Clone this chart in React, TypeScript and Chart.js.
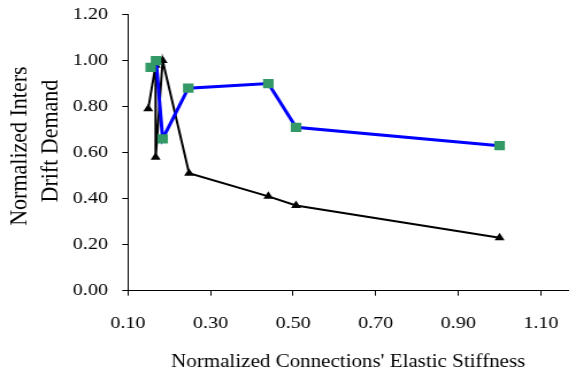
import React, { useEffect, useRef } from "react";
import { Chart, registerables } from "chart.js";

Chart.register(...registerables);

// Series A (black, triangles)
const stiffnessA = [0.149, 0.167, 0.167, 0.184, 0.248, 0.44, 0.507, 1.0];
const driftA = [0.79, 0.98, 0.58, 1.0, 0.51, 0.41, 0.37, 0.23];
// Series B (blue line, green squares)
const stiffnessB = [0.155, 0.168, 0.184, 0.246, 0.44, 0.507, 1.0];
const driftB = [0.97, 1.0, 0.66, 0.88, 0.9, 0.71, 0.63];

const xTicks = [0.1, 0.3, 0.5, 0.7, 0.9, 1.1];
const yTicks = [0, 0.2, 0.4, 0.6, 0.8, 1.0, 1.2];
const xTitle = "Normalized Connections' Elastic Stiffness";
const yTitle = ["Normalized Inters", "Drift Demand"];

const W = 576;
const H = 375;
const SX = 1.15;
const CW = Math.round(W / SX);
const FONT = "'Liberation Serif', 'Times New Roman', serif";

const yTitlePlugin = {
  id: "yTitleBlock",
  afterDraw(chart: any) {
    const { ctx, chartArea } = chart;
    const cy = (chartArea.top + chartArea.bottom) / 2 - 9;
    ctx.save();
    ctx.fillStyle = "#000";
    ctx.font = `22px ${FONT}`;
    ctx.textAlign = "center";
    ctx.textBaseline = "middle";
    yTitle.forEach((line, i) => {
      ctx.save();
      ctx.translate(17.4 + i * 26.6, cy + (i === 0 ? 2.5 : -2.5));
      ctx.rotate(-Math.PI / 2);
      ctx.fillText(line, 0, 0);
      ctx.restore();
    });
    ctx.restore();
  },
};

export default function App() {
  const ref = useRef<HTMLCanvasElement | null>(null);

  useEffect(() => {
    if (!ref.current) return;
    const chart = new Chart(ref.current, {
      type: "line",
      data: {
        datasets: [
          {
            label: "B",
            data: stiffnessB.map((x, i) => ({ x, y: driftB[i] })),
            borderColor: "#0000FF",
            borderWidth: 3,
            pointStyle: "rect",
            pointRadius: 6.5,
            pointBackgroundColor: "#339966",
            pointBorderColor: "#339966",
            pointBorderWidth: 0,
            tension: 0,
            fill: false,
          },
          {
            label: "A",
            data: stiffnessA.map((x, i) => ({ x, y: driftA[i] })),
            borderColor: "#000000",
            borderWidth: 2,
            pointStyle: "triangle",
            pointRadius: 5,
            pointBackgroundColor: "#000000",
            pointBorderColor: "#000000",
            pointBorderWidth: 0,
            tension: 0,
            fill: false,
          },
        ],
      },
      options: {
        responsive: false,
        animation: false,
        layout: { padding: { top: 14.5, right: 0, bottom: 0, left: 0 } },
        plugins: { legend: { display: false }, tooltip: { enabled: false } },
        scales: {
          x: {
            type: "linear",
            min: 0.1,
            max: 1.167,
            afterBuildTicks: (s: any) => {
              s.ticks = xTicks.map((v) => ({ value: v }));
            },
            afterFit: (s: any) => {
              s.height = 84.3;
              s.paddingLeft = 0;
              s.paddingRight = 0;
            },
            ticks: {
              autoSkip: false,
              maxRotation: 0,
              padding: 0,
              color: "#000",
              font: { family: FONT, size: 17.5, lineHeight: 3.143 },
              callback: (v: any) => Number(v).toFixed(2),
            },
            grid: { display: true, drawOnChartArea: false, drawTicks: true, tickLength: 5, color: "#000" },
            border: { display: true, color: "#000", width: 1 },
            title: {
              display: true,
              text: xTitle,
              color: "#000",
              font: { family: FONT, size: 18.3, lineHeight: 1.2 },
              padding: { top: 0, bottom: 2 },
            },
          },
          y: {
            type: "linear",
            min: 0,
            max: 1.2,
            afterBuildTicks: (s: any) => {
              s.ticks = yTicks.map((v) => ({ value: v }));
            },
            afterFit: (s: any) => {
              s.width = 128 / SX;
              s.paddingTop = 10;
              s.paddingBottom = 10;
            },
            ticks: {
              padding: 12.4,
              color: "#000",
              font: { family: FONT, size: 17.5 },
              callback: (v: any) => Number(v).toFixed(2),
            },
            grid: { display: true, drawOnChartArea: false, drawTicks: true, tickLength: 5, color: "#000" },
            border: { display: true, color: "#000", width: 1 },
            title: { display: false },
          },
        },
      },
      plugins: [yTitlePlugin],
    });
    return () => chart.destroy();
  }, []);

  return (
    <div style={{ position: "absolute", left: 0, top: 0, width: W, height: H, background: "#fff" }}>
      <canvas
        ref={ref}
        width={CW}
        height={H}
        style={{ width: `${W}px`, height: `${H}px`, display: "block" }}
      />
    </div>
  );
}
